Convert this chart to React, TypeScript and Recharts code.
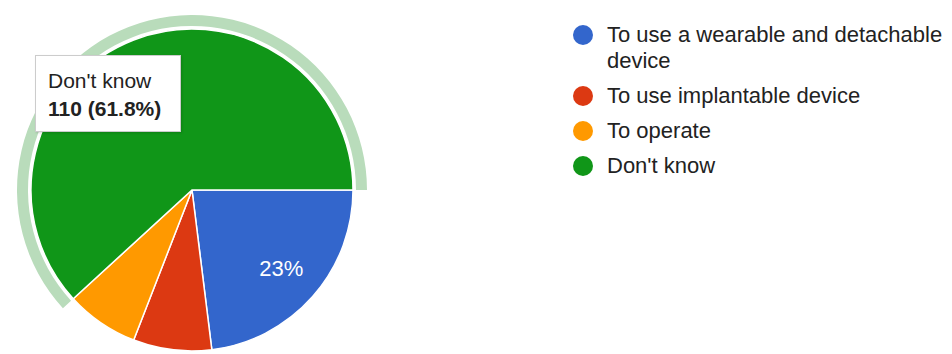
import { PieChart, Pie, Cell, Legend } from 'recharts';

const categories = [
  'To use a wearable and detachable device',
  'To use implantable device',
  'To operate',
  "Don't know",
];
const counts = [41, 14, 13, 110];
const colors = ['#3366cc', '#dc3912', '#ff9900', '#109618'];
const haloColors = ['transparent', 'transparent', 'transparent', '#b9dcbb'];

const total = counts.reduce((a, b) => a + b, 0);
const data = categories.map((name, i) => ({ name, value: counts[i] }));

const FONT = '"Liberation Sans", Arial, sans-serif';
const RAD = Math.PI / 180;

// google charts only labels the big slices; the green one sits under the tooltip
const renderLabel = (p: any) => {
  if (p.index !== 0) return null;
  const r = p.outerRadius * 0.74;
  const x = p.cx + r * Math.cos(-p.midAngle * RAD);
  const y = p.cy + r * Math.sin(-p.midAngle * RAD);
  return (
    <text x={x} y={y} fill="#ffffff" fontSize={22} fontFamily={FONT}
      textAnchor="middle" dominantBaseline="central">
      {`${Math.round((p.value / total) * 100)}%`}
    </text>
  );
};

const LegendBox = () => (
  <div style={{ fontFamily: FONT, fontSize: 22, color: '#222', width: 380 }}>
    {categories.map((c, i) => (
      <div key={c} style={{ display: 'flex', alignItems: 'flex-start', marginBottom: 9, lineHeight: '26px' }}>
        <span style={{
          width: 20, height: 20, borderRadius: 10, background: colors[i],
          flex: '0 0 20px', marginTop: 3, marginRight: 14,
        }} />
        <span style={{ width: 340 }}>{c}</span>
      </div>
    ))}
  </div>
);

export default function App() {
  const hover = 3;
  return (
    <div style={{ position: 'absolute', left: 0, top: 0, width: 952, height: 354, background: '#fff' }}>
      <PieChart width={952} height={354}>
        <Pie data={data} dataKey="value" cx={187} cy={185} innerRadius={164} outerRadius={175}
          startAngle={0} endAngle={-360} stroke="none" isAnimationActive={false} legendType="none">
          {data.map((d, i) => <Cell key={d.name} fill={haloColors[i]} />)}
        </Pie>
        <Pie data={data} dataKey="value" cx={187} cy={185} outerRadius={161}
          startAngle={0} endAngle={-360} stroke="#ffffff" strokeWidth={1.5}
          label={renderLabel} labelLine={false} isAnimationActive={false}>
          {data.map((d, i) => <Cell key={d.name} fill={colors[i]} />)}
        </Pie>
        <Legend layout="vertical" align="right" verticalAlign="top"
          wrapperStyle={{ left: 573, top: 22, width: 379 }} content={<LegendBox />} />
      </PieChart>
      <div style={{
        position: 'absolute', left: 35, top: 55, width: 146, height: 77,
        background: '#fff', border: '1px solid #cccccc', boxSizing: 'border-box',
        boxShadow: '1px 1px 2px rgba(0,0,0,0.15)',
        fontFamily: FONT, fontSize: 21, color: '#222', padding: '11px 0 0 12px', lineHeight: '28px',
      }}>
        <div>{categories[hover]}</div>
        <div style={{ fontWeight: 'bold' }}>
          {`${counts[hover]} (${((counts[hover] / total) * 100).toFixed(1)}%)`}
        </div>
      </div>
    </div>
  );
}
